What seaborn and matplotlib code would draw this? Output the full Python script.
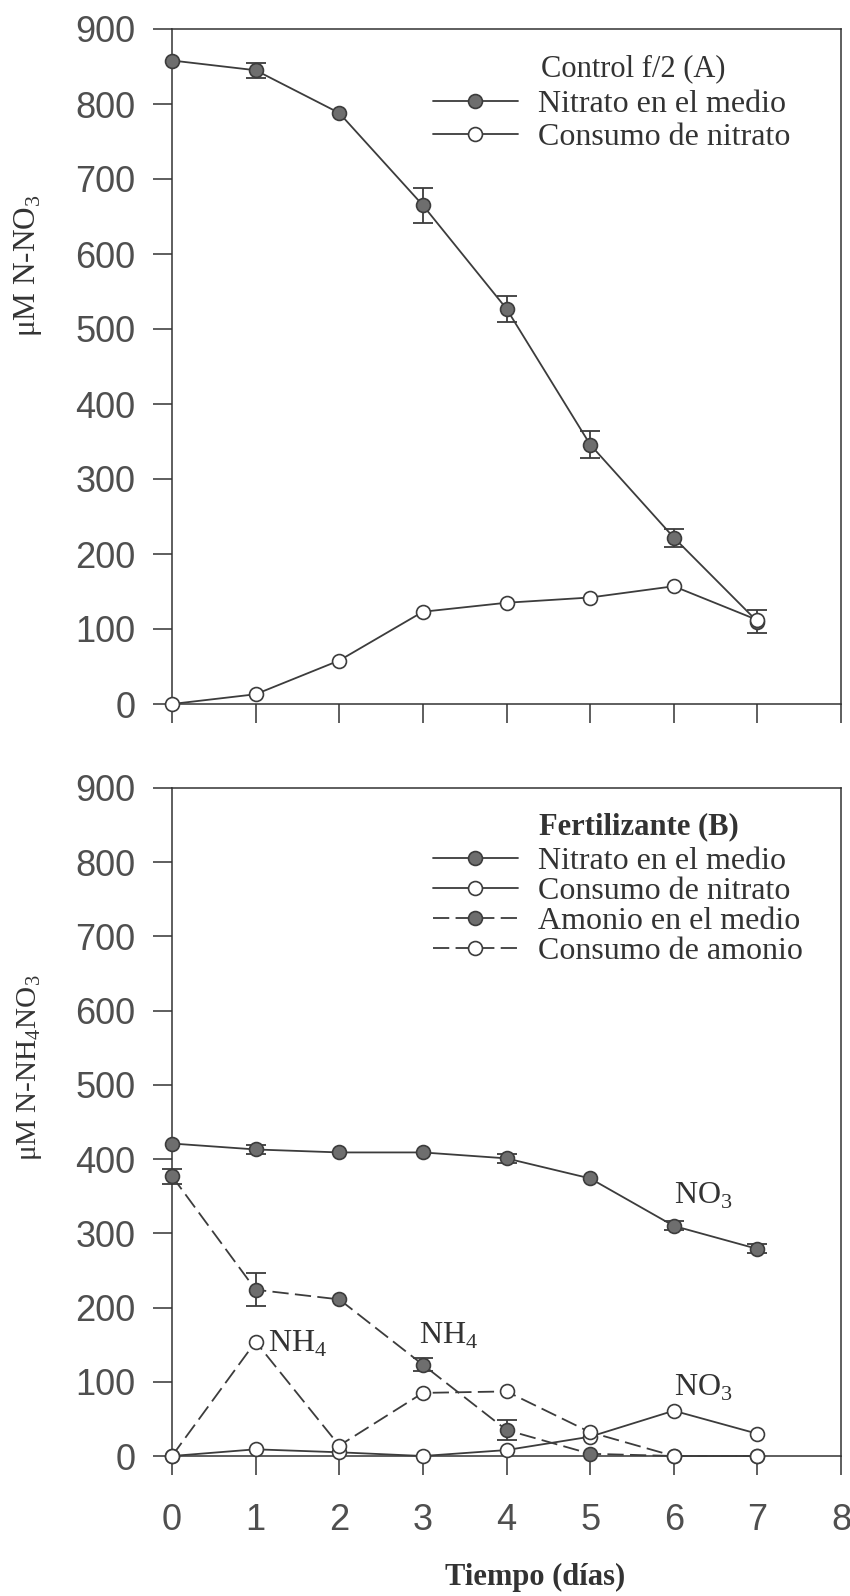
import numpy as np
import pandas as pd
import matplotlib
matplotlib.use("Agg")
import matplotlib.pyplot as plt
import seaborn as sns

# ---------------- data ----------------
days = [0, 1, 2, 3, 4, 5, 6, 7]

# Panel A: Control f/2
nitrato_A = [858, 845, 788, 665, 527, 346, 222, 110]
nitrato_A_err = [0, 10, 0, 23, 17, 18, 12, 15]
consumo_A = [0, 13, 58, 123, 135, 142, 157, 112]

# Panel B: Fertilizante
nitrato_B = [421, 413, 409, 409, 401, 374, 310, 279]
nitrato_B_err = [0, 6, 0, 0, 6, 0, 6, 6]
consumo_nitrato_B = [0, 9, 5, 0, 8, 26, 61, 30]
amonio_B = [377, 224, 211, 123, 35, 3, 0, 0]
amonio_B_err = [10, 22, 0, 9, 13, 0, 0, 0]
consumo_amonio_B = [0, 154, 14, 85, 87, 32, 0, 0]

yticks = [0, 100, 200, 300, 400, 500, 600, 700, 800, 900]
xticks = [0, 1, 2, 3, 4, 5, 6, 7, 8]

legend_A = ["Nitrato en el medio", "Consumo de nitrato"]
legend_B = ["Nitrato en el medio", "Consumo de nitrato",
            "Amonio en el medio", "Consumo de amonio"]

# ---------------- style ----------------
sns.set_theme(style="white")
plt.rcParams["font.family"] = ["Liberation Serif", "DejaVu Serif"]
plt.rcParams["mathtext.fontset"] = "custom"
plt.rcParams["mathtext.rm"] = "Liberation Serif"

LINE = "#3c3c3c"
FILL = "#6e6e6e"
TXT = "#333333"
TICKTXT = "#4f4f4f"
SERIF = ["Liberation Serif", "DejaVu Serif"]
SANS = ["Liberation Sans", "DejaVu Sans"]
DASH = (0, (9, 3.5))

fig = plt.figure(figsize=(8.5, 15.96), dpi=100)
W, H = 850.0, 1596.0
ax1 = fig.add_axes([172 / W, 1 - 704 / H, 669 / W, 675 / H])
ax2 = fig.add_axes([172 / W, 1 - 1456 / H, 669 / W, 668 / H])


def series(ax, y, filled, ls="-"):
    df = pd.DataFrame({"x": days, "y": y})
    sns.lineplot(data=df, x="x", y="y", ax=ax, color=LINE, linewidth=1.3,
                 linestyle=ls, marker="o", markersize=10,
                 markerfacecolor=FILL if filled else "white",
                 markeredgecolor=LINE, markeredgewidth=1.2,
                 clip_on=False, zorder=3, legend=False)
    return ax.lines[-1]


def errbars(ax, y, err):
    x = np.array(days)
    y = np.array(y, dtype=float)
    e = np.array(err, dtype=float)
    m = e > 0
    ax.errorbar(x[m], y[m], yerr=e[m], fmt="none", ecolor=LINE,
                elinewidth=1.3, capsize=7, capthick=1.3, zorder=2,
                clip_on=False)


# Panel A
errbars(ax1, nitrato_A, nitrato_A_err)
hA1 = series(ax1, nitrato_A, True)
hA2 = series(ax1, consumo_A, False)

# Panel B
errbars(ax2, nitrato_B, nitrato_B_err)
errbars(ax2, amonio_B, amonio_B_err)
hB1 = series(ax2, nitrato_B, True)
hB2 = series(ax2, consumo_nitrato_B, False)
hB3 = series(ax2, amonio_B, True, DASH)
hB4 = series(ax2, consumo_amonio_B, False, DASH)

for ax in (ax1, ax2):
    ax.set_xlim(0, 8)
    ax.set_ylim(0, 900)
    ax.set_xticks(xticks)
    ax.set_yticks(yticks)
    ax.set_xlabel("")
    ax.set_ylabel("")
    for s in ax.spines.values():
        s.set_visible(True)
        s.set_color("#333333")
        s.set_linewidth(1.1)
    ax.tick_params(axis="both", which="both", direction="out", length=13.5,
                   width=1.1, color="#333333", labelcolor=TICKTXT,
                   labelsize=26, bottom=True, left=True, top=False, right=False)
    ax.tick_params(axis="y", pad=13)
    ax.tick_params(axis="x", pad=20)
    for lab in ax.get_xticklabels() + ax.get_yticklabels():
        lab.set_family(SANS)
    ax.grid(False)

ax1.tick_params(axis="x", labelbottom=False)

# legends
legA = ax1.legend([hA1, hA2], legend_A, loc="upper left",
                  bbox_to_anchor=(0.390, 0.910), frameon=False, borderpad=0,
                  borderaxespad=0, handlelength=2.65, handletextpad=0.65,
                  labelspacing=0.12, prop={"family": SERIF, "size": 23})
for t in legA.get_texts():
    t.set_color(TXT)
ax1.text(0.552, 0.930, "Control f/2 (A)", transform=ax1.transAxes,
         ha="left", va="baseline", fontsize=22, family=SERIF, color=TXT)

legB = ax2.legend([hB1, hB2, hB3, hB4], legend_B, loc="upper left",
                  bbox_to_anchor=(0.390, 0.912), frameon=False, borderpad=0,
                  borderaxespad=0, handlelength=2.65, handletextpad=0.65,
                  labelspacing=0.02, prop={"family": SERIF, "size": 23})
for t in legB.get_texts():
    t.set_color(TXT)
ax2.text(0.548, 0.931, "Fertilizante (B)", transform=ax2.transAxes,
         ha="left", va="baseline", fontsize=22, family=SERIF, color=TXT,
         fontweight="bold")

# annotations in panel B
ann_text = [r"NH$_\mathregular{4}$", r"NH$_\mathregular{4}$",
            r"NO$_\mathregular{3}$", r"NO$_\mathregular{3}$"]
ann_x = [1.15, 2.95, 6.0, 6.0]
ann_y = [141, 151, 340, 81]
for t, x, y in zip(ann_text, ann_x, ann_y):
    ax2.text(x, y, t, ha="left", va="baseline", fontsize=23, family=SERIF,
             color=TXT)

# axis titles
fig.text(28 / W, 1 - 266 / H, r"μM N-NO$_\mathregular{3}$", rotation=90,
         ha="center", va="center", fontsize=22.5, family=SERIF, color=TXT)
fig.text(30 / W, 1 - 1068 / H, r"μM N-NH$_\mathregular{4}$NO$_\mathregular{3}$",
         rotation=90, ha="center", va="center", fontsize=21, family=SERIF,
         color=TXT)
fig.text(535 / W, 1 - 1577 / H, "Tiempo (días)", ha="center", va="center",
         fontsize=22, family=SERIF, fontweight="bold", color=TXT)

fig.savefig("out.png", dpi=100)
